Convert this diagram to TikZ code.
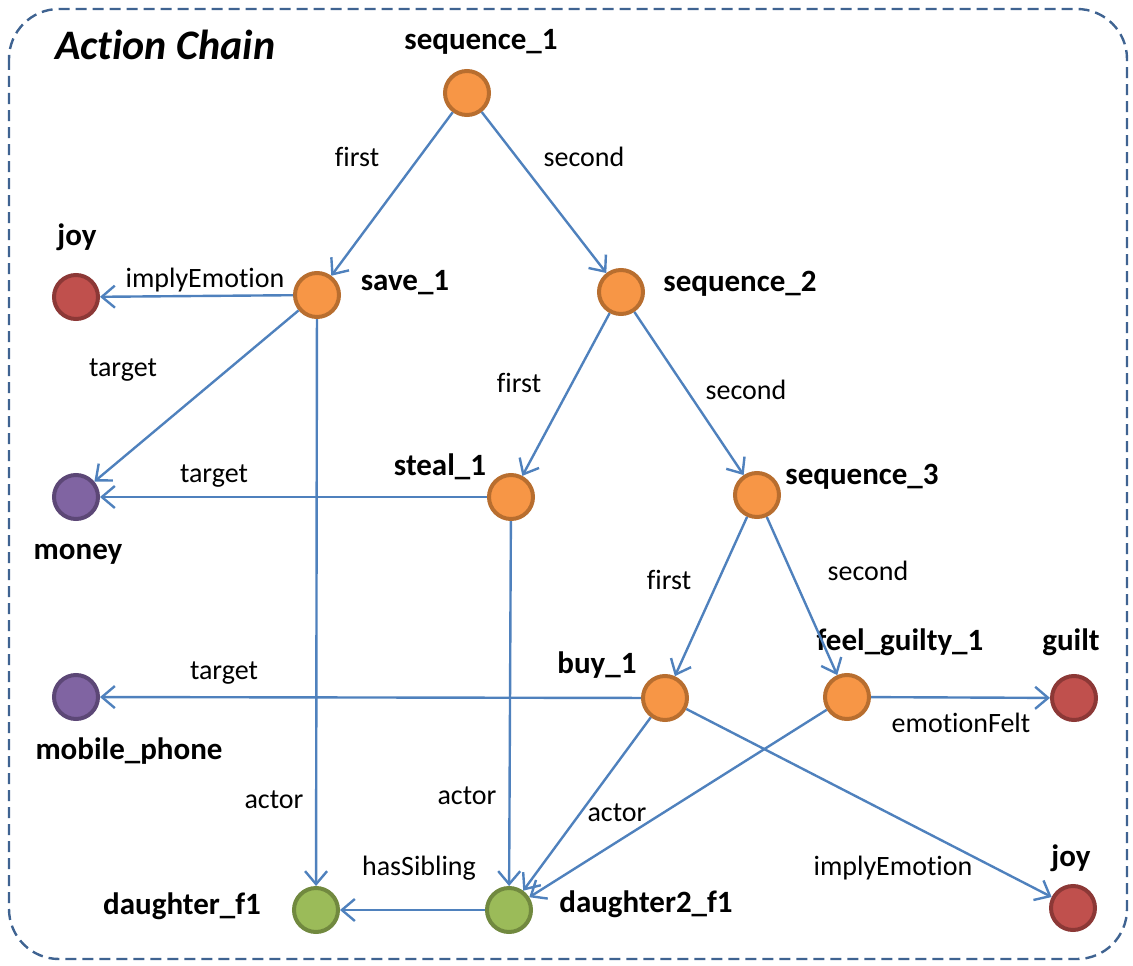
\documentclass[tikz,border=0pt]{standalone}
\usepackage{fontspec}
\setmainfont[Ligatures=NoCommon]{Carlito}
\usetikzlibrary{arrows.meta}
\definecolor{edgeblue}{HTML}{4F81BD}
\definecolor{frameblue}{HTML}{3F6391}
\definecolor{actfill}{HTML}{F79646}
\definecolor{actdraw}{HTML}{B86E2F}
\definecolor{emofill}{HTML}{C0504D}
\definecolor{emodraw}{HTML}{8C3836}
\definecolor{objfill}{HTML}{8064A2}
\definecolor{objdraw}{HTML}{5C4776}
\definecolor{perfill}{HTML}{9BBB59}
\definecolor{perdraw}{HTML}{71893F}
\tikzset{
  ball/.style={circle, minimum size=44pt, inner sep=0pt, line width=4pt},
  action/.style={ball, fill=actfill, draw=actdraw},
  emotion/.style={ball, fill=emofill, draw=emodraw},
  object/.style={ball, fill=objfill, draw=objdraw},
  person/.style={ball, fill=perfill, draw=perdraw},
  nodelabel/.style={font=\fontsize{31}{34}\selectfont\bfseries, inner sep=0pt},
  rellabel/.style={font=\fontsize{28}{32}\selectfont, inner sep=0pt},
  link/.style={draw=edgeblue, line width=2.4pt, -{Straight Barb[length=13pt,width=22pt,line width=2.4pt]}},
}
\begin{document}
\begin{tikzpicture}[x=1pt,y=-1pt]
\useasboundingbox (0,0) rectangle (1133,966);
% frame
\draw[frameblue, line width=2.4pt, dash pattern=on 11pt off 6pt, rounded corners=50pt]
  (9,9) rectangle (1127,959);
\node[font=\fontsize{42}{46}\selectfont\bfseries\itshape, anchor=west, inner sep=0pt] (title) at (55,45) {Action Chain};

% nodes
\node[action] (seq1) at (467,93) {};
\node[action] (save) at (317,295) {};
\node[action] (seq2) at (621,292) {};
\node[emotion] (joyA) at (76,297) {};
\node[object] (money) at (76,497) {};
\node[action] (steal) at (511,497) {};
\node[action] (seq3) at (757,495) {};
\node[object] (phone) at (76,697) {};
\node[action] (buy) at (665,698) {};
\node[action] (guilty) at (847,697) {};
\node[emotion] (guilt) at (1074,698) {};
\node[person] (dau1) at (316,910) {};
\node[person] (dau2) at (509,910) {};
\node[emotion] (joyB) at (1073,908) {};

% node names
\node[nodelabel] (lseq1) at (481,42) {sequence\_1};
\node[nodelabel] (lsave) at (405,283) {save\_1};
\node[nodelabel] (lseq2) at (740,284) {sequence\_2};
\node[nodelabel] (ljoyA) at (77,237) {joy};
\node[nodelabel] (lsteal) at (440,467) {steal\_1};
\node[nodelabel] (lseq3) at (862,477) {sequence\_3};
\node[nodelabel] (lmoney) at (78,554) {money};
\node[nodelabel] (lbuy) at (597,665) {buy\_1};
\node[nodelabel] (lguilty) at (900,642) {feel\_guilty\_1};
\node[nodelabel] (lguilt) at (1071,642) {guilt};
\node[nodelabel] (lphone) at (129,751) {mobile\_phone};
\node[nodelabel] (ldau1) at (182,906) {daughter\_f1};
\node[nodelabel] (ldau2) at (646,904) {daughter2\_f1};
\node[nodelabel] (ljoyB) at (1071,858) {joy};

% relations
\draw[link] (seq1) -- (save);
\draw[link] (seq1) -- (seq2);
\draw[link] (save) -- (joyA);
\draw[link] (save) -- (money);
\draw[link] (save) -- (dau1);
\draw[link] (seq2) -- (steal);
\draw[link] (seq2) -- (seq3);
\draw[link] (steal) -- (money);
\draw[link] (steal) -- (dau2);
\draw[link] (seq3) -- (buy);
\draw[link] (seq3) -- (guilty);
\draw[link] (buy) -- (phone);
\draw[link] (buy) -- (dau2);
\draw[link] (buy) -- (joyB);
\draw[link] (guilty) -- (guilt);
\draw[link] (guilty) -- (dau2);
\draw[link] (dau2) -- (dau1);

% relation labels
\node[rellabel] (r1) at (357,157) {first};
\node[rellabel] (r2) at (584,157) {second};
\node[rellabel] (r3) at (205,280) {implyEmotion};
\node[rellabel] (r4) at (123,370) {target};
\node[rellabel] (r5) at (519,383) {first};
\node[rellabel] (r6) at (746,390) {second};
\node[rellabel] (r7) at (214,476) {target};
\node[rellabel] (r8) at (669,580) {first};
\node[rellabel] (r9) at (868,571) {second};
\node[rellabel] (r10) at (224,673) {target};
\node[rellabel] (r11) at (961,723) {emotionFelt};
\node[rellabel] (r12) at (274,800) {actor};
\node[rellabel] (r13) at (467,796) {actor};
\node[rellabel] (r14) at (617,813) {actor};
\node[rellabel] (r15) at (419,868) {hasSibling};
\node[rellabel] (r16) at (893,868) {implyEmotion};
\end{tikzpicture}
\end{document}
